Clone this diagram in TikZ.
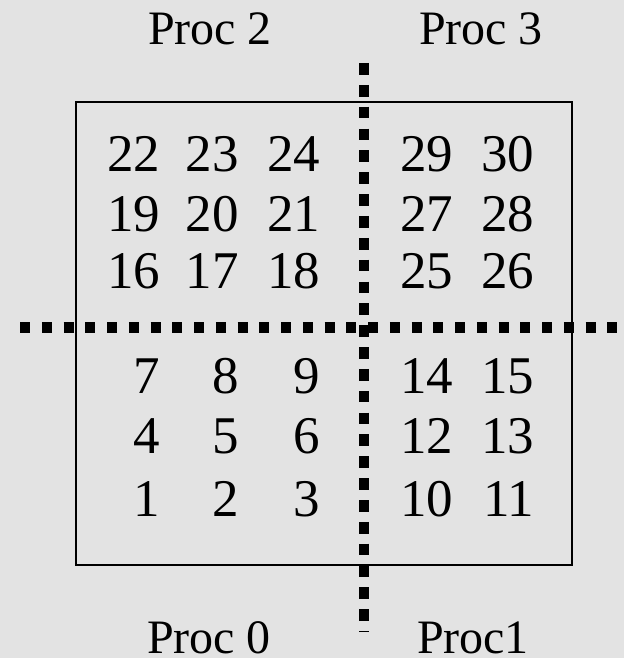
\documentclass[tikz,border=0pt]{standalone}
\usepackage{fontspec}
\setmainfont{Liberation Serif}
\definecolor{bg}{RGB}{227,227,227}
\begin{document}
\begin{tikzpicture}[x=1pt,y=-1pt,
  num/.style={anchor=base east,inner sep=0pt,font=\fontsize{53}{60}\selectfont},
  proc/.style={anchor=base,inner sep=0pt,text depth=0pt,font=\fontsize{48}{56}\selectfont},
  hsep/.style={line width=11pt,dash pattern=on 10pt off 11.75pt},
  vsep/.style={line width=10pt,dash pattern=on 11.7pt off 10.15pt},
  frame/.style={draw=black,line width=1.6pt}]
\fill[bg] (0,0) rectangle (624,658);
\useasboundingbox (0,0) rectangle (624,658);
% frame
\draw[frame] (76,102) rectangle (572,565);
% separators
\coordinate (hl) at (20,327.5);
\coordinate (hr) at (630,327.5);
\coordinate (vt) at (363.5,63);
\coordinate (vb) at (363.5,632);
\draw[hsep] (hl) -- (hr);
\draw[vsep] (vt) -- (vb);
% labels
\node[proc] (p2) at (210,45) {Proc 2};
\node[proc] (p3) at (481,45) {Proc 3};
\node[proc] (p0) at (209,653) {Proc 0};
\node[proc] (p1) at (473,653) {Proc1};
% numbers, left half
\node[num] (n22) at (160.5,171.7) {22};
\node[num] (n23) at (239,171.7) {23};
\node[num] (n24) at (320.5,171.7) {24};
\node[num] (n19) at (160.5,231.2) {19};
\node[num] (n20) at (239,231.2) {20};
\node[num] (n21) at (320.5,231.2) {21};
\node[num] (n16) at (160.5,288) {16};
\node[num] (n17) at (239,288) {17};
\node[num] (n18) at (320.5,288) {18};
\node[num] (n7) at (160.5,393.3) {7};
\node[num] (n8) at (239,393.3) {8};
\node[num] (n9) at (320.5,393.3) {9};
\node[num] (n4) at (160.5,453.3) {4};
\node[num] (n5) at (239,453.3) {5};
\node[num] (n6) at (320.5,453.3) {6};
\node[num] (n1) at (160.5,516.7) {1};
\node[num] (n2) at (239,516.7) {2};
\node[num] (n3) at (320.5,516.7) {3};
% numbers, right half
\node[num] (n29) at (453.5,171.7) {29};
\node[num] (n30) at (534.5,171.7) {30};
\node[num] (n27) at (453.5,231.2) {27};
\node[num] (n28) at (534.5,231.2) {28};
\node[num] (n25) at (453.5,288) {25};
\node[num] (n26) at (534.5,288) {26};
\node[num] (n14) at (453.5,393.3) {14};
\node[num] (n15) at (534.5,393.3) {15};
\node[num] (n12) at (453.5,453.3) {12};
\node[num] (n13) at (534.5,453.3) {13};
\node[num] (n10) at (453.5,516.7) {10};
\node[num] (n11) at (534.5,516.7) {11};
\end{tikzpicture}
\end{document}
